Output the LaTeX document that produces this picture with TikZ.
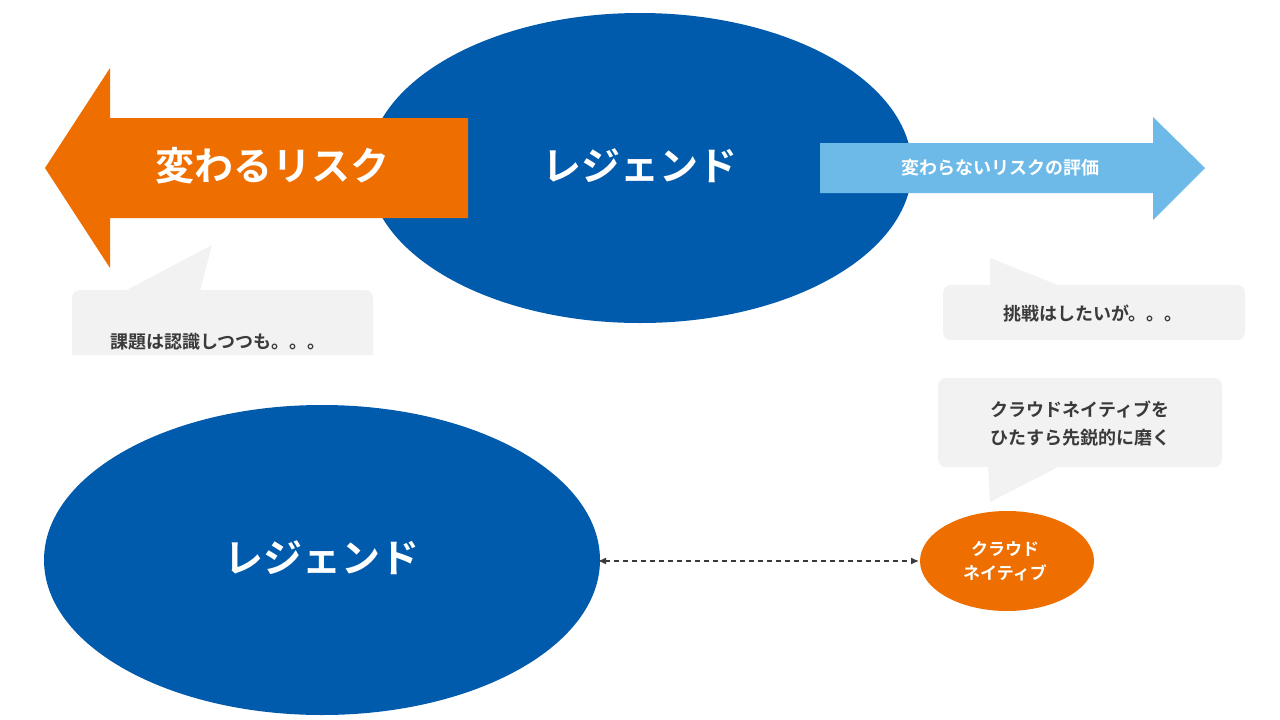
\documentclass[tikz,border=0pt]{standalone}
\usepackage{fontspec}
\setmainfont{Noto Sans CJK JP}[BoldFont={* Bold}]
\usetikzlibrary{arrows.meta}
\definecolor{navy}{HTML}{005BAC}
\definecolor{org}{HTML}{EE6F00}
\definecolor{sky}{HTML}{6DB9E8}
\definecolor{callbg}{HTML}{F2F2F2}
\definecolor{txt}{HTML}{3A3A3A}
\begin{document}
\begin{tikzpicture}[x=1pt,y=-1pt,
  big/.style={text=white,font=\bfseries\fontsize{39}{42}\selectfont},
  small/.style={text=white,font=\bfseries\fontsize{18}{22}\selectfont},
  ctext/.style={text=txt,font=\bfseries\fontsize{18}{28}\selectfont,align=center},
  call/.style={fill=callbg,draw=none}]
\useasboundingbox (0,0) rectangle (1280,720);
\fill[white] (0,0) rectangle (1280,720);
% top ellipse
\fill[navy] (640,168) ellipse [x radius=272, y radius=155];
\node[big] (leg1) at (640,166) {レジェンド};
% orange arrow
\fill[org] (45,168) -- (110,68) -- (110,118) -- (468,118) -- (468,218) -- (110,218) -- (110,268) -- cycle;
\node[big] (risk) at (272,166) {変わるリスク};
% blue arrow
\fill[sky] (820,143) -- (1153,143) -- (1153,117) -- (1205,168) -- (1153,220) -- (1153,193) -- (820,193) -- cycle;
\node[small] (eval) at (1000,168) {変わらないリスクの評価};
% callouts
\fill[call] (72,355) -- (72,298) arc[start angle=180,end angle=270,radius=8] -- (365,290) arc[start angle=270,end angle=360,radius=8] -- (373,355) -- cycle;
\fill[call] (125,291) -- (212,245) -- (200,291) -- cycle;
\node[ctext] (c1) at (218,342) {課題は認識しつつも。。。};
\fill[call,rounded corners=8] (943,285) rectangle (1245,340);
\fill[call] (990,286) -- (990,258) -- (1060,286) -- cycle;
\node[ctext] (c2) at (1093,314) {挑戦はしたいが。。。};
\fill[call,rounded corners=8] (938,378) rectangle (1222,467);
\fill[call] (988,466) -- (990,502) -- (1060,466) -- cycle;
\node[ctext] (c3) at (1080,424) {クラウドネイティブを\\ひたすら先鋭的に磨く};
% bottom
\fill[navy] (322,560) ellipse [x radius=278, y radius=155];
\node[big] (leg2) at (322,558) {レジェンド};
\fill[org] (1007,561) ellipse [x radius=87, y radius=50];
\node[small,align=center,font=\bfseries\fontsize{17}{24}\selectfont] (cn) at (1005,561) {クラウド\\ネイティブ};
\coordinate (a) at (598,561);
\coordinate (b) at (919,561);
\draw[txt,dash pattern=on 5pt off 4pt,line width=1.3,{Latex[length=8,width=7]}-{Latex[length=8,width=7]}] (a) -- (b);
\end{tikzpicture}
\end{document}
